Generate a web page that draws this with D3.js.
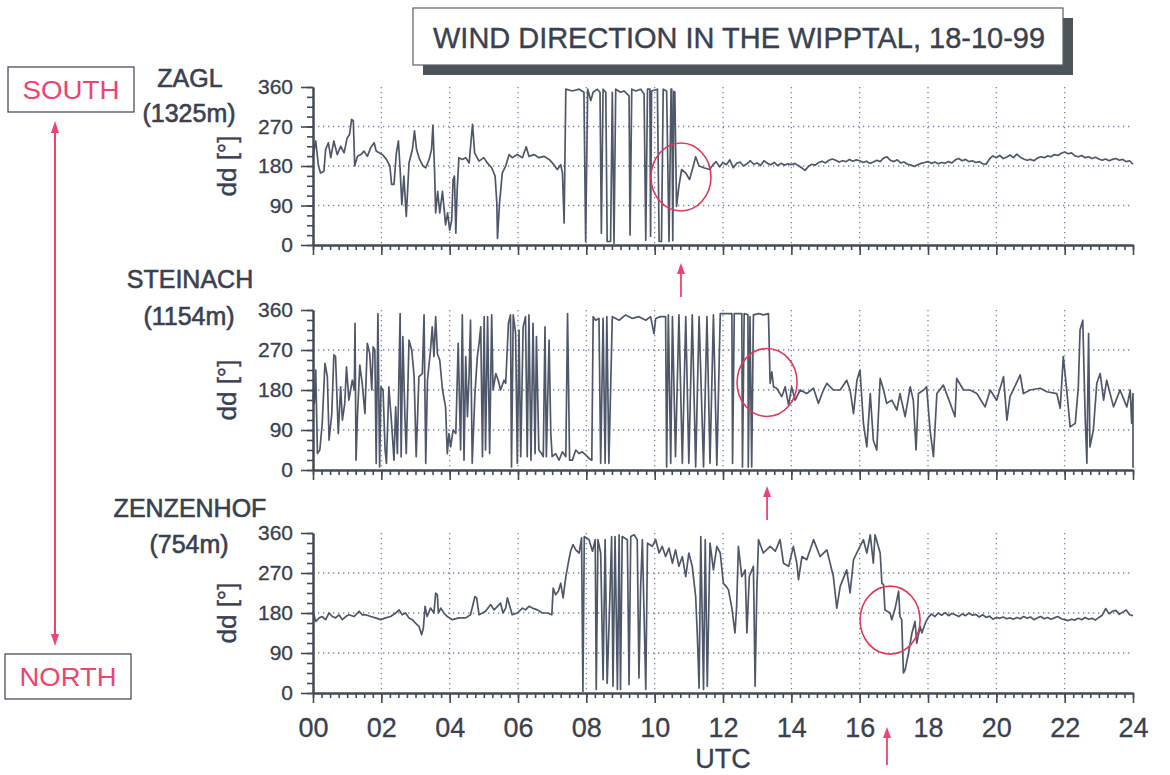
<!DOCTYPE html>
<html>
<head>
<meta charset="utf-8">
<script src="https://cdn.jsdelivr.net/npm/d3@7"></script>
<style>
  html, body { margin: 0; padding: 0; background: #ffffff; }
  svg { display: block; font-family: "Liberation Sans", Arial, sans-serif; }
</style>
</head>
<body>
<svg id="chart" width="1170" height="775"></svg>
<script>
// ---- labels ----
const titleText = "WIND DIRECTION IN THE WIPPTAL, 18-10-99";
const stationNames = ["ZAGL", "STEINACH", "ZENZENHOF"];
const stationHeights = ["(1325m)", "(1154m)", "(754m)"];
const hourTickValues = [0, 2, 4, 6, 8, 10, 12, 14, 16, 18, 20, 22, 24];
const hourTickLabels = ["00", "02", "04", "06", "08", "10", "12", "14", "16", "18", "20", "22", "24"];
const dirTickValues = [0, 90, 180, 270, 360];
const dirTickLabels = ["0", "90", "180", "270", "360"];
const gridDirs = [90, 180, 270];

// ---- wind direction series: [hour UTC, direction in degrees] ----
const zagl = [
  [0.00,202],[0.08,237],[0.16,180],[0.22,164],[0.32,168],[0.37,218],[0.45,233],[0.52,199],[0.61,237],[0.71,206],
  [0.81,225],[0.91,210],[1.00,244],[1.07,252],[1.13,286],[1.18,283],[1.22,180],[1.30,202],[1.40,206],[1.49,214],
  [1.59,202],[1.69,222],[1.79,233],[1.85,214],[1.93,210],[2.03,206],[2.15,195],[2.25,180],[2.30,138],[2.37,138],
  [2.44,210],[2.50,237],[2.55,172],[2.60,92],[2.66,157],[2.73,65],[2.81,187],[2.91,218],[2.97,260],[3.03,218],
  [3.12,195],[3.22,180],[3.30,176],[3.40,195],[3.47,218],[3.51,273],[3.56,164],[3.59,73],[3.65,122],[3.71,73],
  [3.79,122],[3.84,80],[3.88,46],[3.94,73],[4.00,34],[4.06,57],[4.10,149],[4.14,157],[4.18,27],[4.22,126],
  [4.27,199],[4.37,195],[4.47,199],[4.57,187],[4.63,241],[4.67,275],[4.73,210],[4.86,191],[5.00,199],[5.10,187],
  [5.23,176],[5.33,157],[5.38,96],[5.40,15],[5.46,96],[5.54,164],[5.64,180],[5.74,206],[5.83,199],[5.98,206],
  [6.13,199],[6.24,224],[6.32,202],[6.47,206],[6.61,199],[6.76,202],[6.91,195],[7.05,183],[7.15,172],[7.25,183],
  [7.30,164],[7.35,50],[7.40,355],[7.59,351],[7.79,355],[7.93,348],[7.98,8],[8.04,355],[8.13,329],[8.20,348],
  [8.32,355],[8.40,348],[8.44,27],[8.49,355],[8.57,348],[8.61,8],[8.71,8],[8.76,348],[8.81,4],[8.86,355],
  [9.00,348],[9.10,351],[9.25,340],[9.28,23],[9.33,355],[9.45,351],[9.59,355],[9.69,344],[9.74,11],[9.79,355],
  [9.86,355],[9.88,20],[9.91,351],[10.08,355],[10.13,8],[10.20,8],[10.25,355],[10.35,351],[10.42,8],[10.48,355],
  [10.50,355],[10.53,10],[10.56,350],[10.59,348],[10.64,88],[10.71,134],[10.79,172],[10.91,164],[11.02,149],[11.13,180],
  [11.20,201],[11.30,180],[11.44,176],[11.61,172],
  [11.7,182],[11.8,190],[11.9,178],[12.0,188],[12.1,183],[12.2,194],[12.3,176],[12.4,186],[12.5,189],[12.6,180],
  [12.7,185],[12.8,192],[12.9,184],[13.0,187],[13.1,181],[13.2,192],[13.3,186],[13.4,183],[13.5,188],[13.6,181],
  [13.7,186],[13.8,182],[13.9,185],[14.0,183],[14.1,186],[14.2,181],[14.3,176],[14.4,170],[14.5,179],[14.6,184],
  [14.7,182],[14.8,188],[14.9,191],[15.0,187],[15.1,193],[15.2,196],[15.3,193],[15.4,189],[15.5,192],[15.6,190],
  [15.7,195],[15.8,191],[15.9,194],[16.0,192],[16.1,188],[16.2,191],[16.3,186],[16.4,189],[16.5,193],[16.6,190],
  [16.7,198],[16.8,201],[16.9,193],[17.0,190],[17.1,194],[17.2,187],[17.3,189],[17.4,184],[17.5,182],[17.6,179],
  [17.7,183],[17.8,186],[17.9,188],[18.0,190],[18.1,186],[18.2,189],[18.3,185],[18.4,188],[18.5,186],[18.6,190],
  [18.7,187],[18.8,194],[18.9,197],[19.0,192],[19.1,195],[19.2,190],[19.3,192],[19.4,188],[19.5,190],[19.6,185],
  [19.7,184],[19.8,196],[19.9,203],[20.0,199],[20.1,204],[20.2,197],[20.3,200],[20.4,205],[20.5,199],[20.6,207],
  [20.7,200],[20.8,196],[20.9,193],[21.0,195],[21.1,192],[21.2,198],[21.3,201],[21.4,199],[21.5,203],[21.6,201],
  [21.7,206],[21.8,204],[21.9,209],[22.0,212],[22.1,208],[22.2,210],[22.3,203],[22.4,201],[22.5,204],[22.6,199],
  [22.7,201],[22.8,197],[22.9,200],[23.0,196],[23.1,193],[23.2,196],[23.3,192],[23.4,195],[23.5,197],[23.6,193],
  [23.7,195],[23.8,190],[23.9,192],[24.0,184]
];

const steinach = [
  [0.00,169],[0.04,150],[0.08,225],[0.13,37],[0.20,45],[0.27,105],[0.35,240],[0.42,210],[0.47,67],[0.55,127],
  [0.61,259],[0.66,255],[0.74,82],[0.81,187],[0.86,112],[0.93,150],[0.98,232],[1.05,157],[1.15,202],[1.21,180],
  [1.23,330],[1.26,22],[1.30,120],[1.37,236],[1.44,195],[1.52,127],[1.59,285],[1.66,262],[1.72,180],[1.76,277],
  [1.81,270],[1.85,15],[1.90,352],[1.95,7],[1.99,187],[2.05,180],[2.11,45],[2.15,15],[2.22,187],[2.30,105],
  [2.37,22],[2.42,142],[2.47,37],[2.55,352],[2.58,30],[2.63,300],[2.69,120],[2.73,37],[2.81,292],[2.89,270],
  [2.96,210],[3.02,30],[3.10,210],[3.20,217],[3.25,349],[3.30,15],[3.35,202],[3.44,270],[3.49,322],[3.54,255],
  [3.59,345],[3.64,262],[3.71,247],[3.79,180],[3.88,142],[3.93,37],[3.98,82],[4.03,52],[4.10,90],[4.18,82],
  [4.25,285],[4.32,45],[4.37,349],[4.42,22],[4.47,255],[4.52,120],[4.57,217],[4.61,337],[4.66,15],[4.74,172],
  [4.81,255],[4.86,285],[4.91,322],[4.96,30],[5.01,345],[5.05,45],[5.11,345],[5.17,37],[5.23,349],[5.27,180],
  [5.35,217],[5.42,202],[5.49,180],[5.59,202],[5.64,195],[5.72,330],[5.78,349],[5.81,7],[5.86,349],[5.93,307],
  [5.98,15],[6.03,315],[6.08,30],[6.15,322],[6.22,345],[6.27,30],[6.32,349],[6.38,22],[6.44,330],[6.50,37],
  [6.54,300],[6.61,45],[6.69,37],[6.74,30],[6.79,322],[6.83,30],[6.91,292],[6.96,82],[7.00,30],[7.10,37],
  [7.20,22],[7.30,41],[7.40,30],[7.45,352],[7.51,22],[7.59,22],[7.69,45],[7.79,37],[7.88,41],[7.98,34],
  [8.08,26],[8.16,22],[8.20,345],[8.27,337],[8.37,341],[8.42,15],[8.49,341],[8.55,15],[8.60,345],[8.66,15],
  [8.76,345],[8.96,337],[9.15,349],[9.35,341],[9.54,345],[9.74,337],[9.88,345],[9.98,307],[10.03,341],[10.17,345],
  [10.32,345],[10.35,7],[10.40,349],[10.47,15],[10.52,345],[10.61,30],[10.71,349],[10.81,15],[10.91,345],[11.00,15],
  [11.10,349],[11.20,7],[11.30,345],[11.43,7],[11.53,345],[11.62,15],[11.72,349],[11.82,11],[11.92,352],[12.26,352],
  [12.28,15],[12.33,352],[12.55,352],[12.57,7],[12.62,352],[12.73,349],[12.74,7],[12.79,345],[12.84,7],[12.89,349],
  [13.04,352],[13.18,349],[13.33,352],[13.38,195],[13.43,221],[13.48,187],[13.57,184],[13.72,165],[13.82,187],[13.92,146],
  [14.01,187],[14.11,157],[14.26,180],[14.45,172],[14.65,184],[14.79,150],[14.94,180],[15.04,195],[15.23,180],[15.43,180],
  [15.62,202],[15.72,180],[15.82,127],[15.92,202],[16.01,225],[16.11,105],[16.21,52],[16.31,172],[16.40,67],[16.50,45],
  [16.60,206],[16.70,180],[16.79,150],[16.94,157],[17.09,135],[17.18,172],[17.33,120],[17.48,187],[17.57,157],[17.65,45],
  [17.72,172],[17.87,180],[17.96,187],[18.06,90],[18.16,30],[18.26,172],[18.45,191],[18.65,150],[18.79,120],[18.84,206],
  [19.04,180],[19.23,180],[19.43,172],[19.67,142],[19.82,180],[20.01,157],[20.21,210],[20.31,112],[20.40,165],[20.70,214],
  [20.79,172],[20.99,180],[21.28,184],[21.48,176],[21.77,172],[21.87,139],[21.96,255],[22.06,180],[22.16,97],[22.31,105],
  [22.40,187],[22.45,315],[22.53,337],[22.60,120],[22.65,15],[22.70,307],[22.74,52],[22.84,90],[22.94,195],[23.04,217],
  [23.14,157],[23.23,202],[23.43,142],[23.62,180],[23.82,142],[23.92,180],[23.96,105],[24.00,172],[24.00,5]
];

const zenzenhof = [
  [0.00,184],[0.08,161],[0.18,169],[0.27,172],[0.37,165],[0.47,180],[0.57,172],[0.66,169],[0.76,176],[0.86,165],
  [0.96,172],[1.05,176],[1.20,172],[1.35,184],[1.44,176],[1.54,176],[1.69,172],[1.83,169],[1.98,165],[2.13,169],
  [2.27,172],[2.42,180],[2.52,187],[2.61,176],[2.71,180],[2.81,169],[2.91,165],[3.00,157],[3.10,150],[3.18,131],
  [3.23,146],[3.28,195],[3.34,172],[3.44,191],[3.54,180],[3.59,225],[3.64,221],[3.67,180],[3.74,191],[3.83,180],
  [3.93,172],[4.08,165],[4.27,169],[4.47,169],[4.61,176],[4.74,217],[4.79,214],[4.86,176],[4.96,180],[5.05,184],
  [5.20,199],[5.30,187],[5.40,195],[5.49,202],[5.56,180],[5.64,191],[5.69,214],[5.76,195],[5.83,176],[5.98,180],
  [6.13,191],[6.22,187],[6.32,195],[6.42,191],[6.57,187],[6.71,180],[6.86,180],[6.99,176],[7.03,236],[7.10,221],
  [7.18,229],[7.25,247],[7.32,214],[7.40,262],[7.49,300],[7.54,319],[7.61,334],[7.69,322],[7.79,315],[7.86,349],
  [7.90,4],[7.94,352],[8.08,345],[8.18,319],[8.26,345],[8.29,8],[8.34,345],[8.42,315],[8.49,30],[8.55,345],
  [8.61,22],[8.66,142],[8.74,352],[8.78,15],[8.84,352],[8.91,8],[8.96,356],[9.00,8],[9.05,352],[9.20,345],
  [9.25,19],[9.30,352],[9.40,356],[9.49,345],[9.54,34],[9.59,240],[9.64,345],[9.74,8],[9.79,337],[9.93,330],
  [10.03,345],[10.13,315],[10.22,330],[10.32,307],[10.42,326],[10.52,292],[10.61,322],[10.71,285],[10.81,307],[10.91,262],
  [11.00,315],[11.10,285],[11.20,217],[11.25,127],[11.30,11],[11.35,352],[11.43,8],[11.48,345],[11.54,15],[11.62,337],
  [11.72,277],[11.82,330],[11.92,315],[12.01,247],[12.09,240],[12.16,232],[12.26,191],[12.35,135],[12.40,195],[12.45,330],
  [12.55,262],[12.65,277],[12.70,135],[12.77,262],[12.89,285],[12.94,15],[12.99,232],[13.04,345],[13.18,315],[13.38,330],
  [13.53,319],[13.67,345],[13.77,292],[13.92,285],[14.06,330],[14.16,292],[14.21,255],[14.31,307],[14.45,300],[14.65,345],
  [14.84,307],[15.04,322],[15.23,262],[15.33,191],[15.43,240],[15.62,277],[15.72,225],[15.82,300],[16.01,330],[16.11,345],
  [16.21,315],[16.31,356],[16.40,292],[16.45,356],[16.60,315],[16.65,247],[16.70,244],[16.74,187],[16.89,180],[16.94,165],
  [17.04,191],[17.14,229],[17.18,172],[17.23,165],[17.28,45],[17.33,52],[17.43,90],[17.53,135],[17.62,161],[17.67,112],
  [17.77,150],[17.82,135],[17.92,157],[18.0,169],[18.1,178],[18.2,172],[18.3,180],[18.4,175],[18.5,181],[18.6,174],
  [18.7,179],[18.8,176],[18.9,172],[19.0,178],[19.1,174],[19.2,180],[19.3,175],[19.4,177],[19.5,171],[19.6,176],
  [19.7,170],[19.8,173],[19.9,166],[20.0,170],[20.1,168],[20.2,171],[20.3,167],[20.4,169],[20.5,166],[20.6,170],
  [20.7,167],[20.8,172],[20.9,168],[21.0,171],[21.1,165],[21.2,169],[21.3,172],[21.4,167],[21.5,170],[21.6,166],
  [21.7,169],[21.8,172],[21.9,167],[22.0,165],[22.1,163],[22.2,166],[22.3,164],[22.4,168],[22.5,165],[22.6,170],
  [22.7,166],[22.8,168],[22.9,164],[23.0,170],[23.1,175],[23.2,190],[23.3,178],[23.4,184],[23.5,186],[23.6,177],
  [23.7,182],[23.8,187],[23.9,176],[24.0,174]
];

// change-over marks (hour, direction) highlighted with a circle and an arrow
const markHours = [10.77, 13.29, 16.89];
const markDirs = [155, 197, 164];
const arrowHours = [10.77, 13.29, 16.80];

const seriesList = [zagl, steinach, zenzenhof];

// ---- layout ----
const svg = d3.select("#chart");
const textColor = "#3a4150";
const axisColor = "#434a58";
const lineColor = "#4f586a";
const gridColor = "#7583a8";
const red = "#e23a55";
const pink = "#ee4470";

const x = d3.scaleLinear().domain([0, 24]).range([313, 1133]);
const panels = [
  { top: 87, bottom: 245, nameY: 87, heightY: 122 },
  { top: 310, bottom: 470, nameY: 288, heightY: 325 },
  { top: 533, bottom: 693, nameY: 517, heightY: 553 }
];

// slightly heavier text, like the printed labels
function heavy(sel, w) {
  return sel.attr("stroke", sel.attr("fill")).attr("stroke-width", w).attr("paint-order", "stroke");
}

// title box with shadow
svg.append("rect").attr("x", 423).attr("y", 18).attr("width", 650).attr("height", 57).attr("fill", "#4c5457");
svg.append("rect").attr("x", 413).attr("y", 8).attr("width", 650).attr("height", 57)
  .attr("fill", "#ffffff").attr("stroke", "#5a606a").attr("stroke-width", 1.2);
heavy(svg.append("text").attr("x", 739).attr("y", 48).attr("text-anchor", "middle")
  .attr("font-size", 29).attr("fill", textColor)
  .attr("textLength", 612).attr("lengthAdjust", "spacingAndGlyphs").text(titleText), 0.4);

// SOUTH / NORTH boxes and arrow
function compassBox(label, bx, by) {
  svg.append("rect").attr("x", bx).attr("y", by).attr("width", 126).attr("height", 45)
    .attr("fill", "#ffffff").attr("stroke", "#4a505c").attr("stroke-width", 1.3);
  svg.append("text").attr("x", bx + 63).attr("y", by + 32).attr("text-anchor", "middle")
    .attr("font-size", 26).attr("fill", pink)
    .attr("textLength", 97).attr("lengthAdjust", "spacingAndGlyphs").text(label);
}
compassBox("SOUTH", 8, 67);
compassBox("NORTH", 5, 654);
svg.append("line").attr("x1", 55).attr("x2", 55).attr("y1", 130).attr("y2", 637)
  .attr("stroke", pink).attr("stroke-width", 2);
svg.append("path").attr("d", "M55,121 L51,133 L59,133 Z").attr("fill", pink);
svg.append("path").attr("d", "M55,646 L51,634 L59,634 Z").attr("fill", pink);

panels.forEach((p, i) => {
  const y = d3.scaleLinear().domain([0, 360]).range([p.bottom, p.top]);
  const g = svg.append("g");

  // dotted grid
  g.selectAll(".hgrid").data(gridDirs).join("line")
    .attr("x1", x(0)).attr("x2", x(24)).attr("y1", d => y(d)).attr("y2", d => y(d))
    .attr("stroke", gridColor).attr("stroke-width", 1.3).attr("stroke-dasharray", "1.3,3.7");
  g.selectAll(".vgrid").data(hourTickValues.filter(h => h > 0 && h < 24)).join("line")
    .attr("x1", d => x(d)).attr("x2", d => x(d)).attr("y1", y(360)).attr("y2", y(0))
    .attr("stroke", gridColor).attr("stroke-width", 1.3).attr("stroke-dasharray", "1.3,3.7");

  // data line
  const line = d3.line().x(d => x(d[0])).y(d => y(d[1]));
  g.append("path").datum(seriesList[i]).attr("d", line)
    .attr("fill", "none").attr("stroke", lineColor).attr("stroke-width", 1.7)
    .attr("stroke-linejoin", "round");

  // y axis: minor + major ticks
  const yMinor = g.append("g").attr("transform", `translate(${x(0)},0)`)
    .call(d3.axisLeft(y).tickValues(d3.range(0, 361, 22.5)).tickSize(6).tickSizeOuter(0).tickFormat(""));
  const yMajor = g.append("g").attr("transform", `translate(${x(0)},0)`)
    .call(d3.axisLeft(y).tickValues(dirTickValues).tickSize(12).tickSizeOuter(0).tickPadding(8)
      .tickFormat((d, k) => dirTickLabels[k]));
  [yMinor, yMajor].forEach(a => {
    a.select(".domain").attr("stroke", axisColor).attr("stroke-width", 2);
    a.selectAll(".tick line").attr("stroke", axisColor).attr("stroke-width", 1.6);
  });
  yMajor.selectAll(".tick text").attr("font-size", 21).attr("fill", textColor)
    .attr("font-family", "Liberation Sans, Arial, sans-serif")
    .attr("stroke", textColor).attr("stroke-width", 0.3);

  // x axis: minor + major ticks
  const xMinor = g.append("g").attr("transform", `translate(0,${p.bottom})`)
    .call(d3.axisBottom(x).tickValues(d3.range(0, 24.01, 0.25)).tickSize(5).tickSizeOuter(0).tickFormat(""));
  const xMajor = g.append("g").attr("transform", `translate(0,${p.bottom})`)
    .call(d3.axisBottom(x).tickValues(hourTickValues).tickSize(10).tickSizeOuter(0).tickPadding(15)
      .tickFormat((d, k) => i === 2 ? hourTickLabels[k] : ""));
  [xMinor, xMajor].forEach(a => {
    a.select(".domain").attr("stroke", axisColor).attr("stroke-width", 2);
    a.selectAll(".tick line").attr("stroke", axisColor).attr("stroke-width", 1.6);
  });
  xMajor.selectAll(".tick text").attr("font-size", 27).attr("fill", textColor)
    .attr("font-family", "Liberation Sans, Arial, sans-serif")
    .attr("stroke", textColor).attr("stroke-width", 0.3);

  // y axis title
  const mid = (p.top + p.bottom) / 2;
  heavy(g.append("text").attr("transform", `translate(236,${mid}) rotate(-90)`)
    .attr("text-anchor", "middle").attr("font-size", 26).attr("fill", textColor).text("dd [°]"), 0.4);

  // station name and height
  heavy(g.append("text").attr("x", 190).attr("y", p.nameY).attr("text-anchor", "middle")
    .attr("font-size", 25).attr("fill", textColor).text(stationNames[i]), 0.6);
  heavy(g.append("text").attr("x", 189).attr("y", p.heightY).attr("text-anchor", "middle")
    .attr("font-size", 25).attr("fill", textColor).text(stationHeights[i]), 0.6);

  // highlighted change-over
  g.append("ellipse").attr("cx", x(markHours[i])).attr("cy", y(markDirs[i]))
    .attr("rx", 30).attr("ry", 34).attr("fill", "none").attr("stroke", red).attr("stroke-width", 1.6);
});

// change-over arrows beneath each panel
const arrowSpans = [[263, 297], [486, 520], [727, 765]];
arrowHours.forEach((h, i) => {
  const ax = x(h);
  const [tip, end] = arrowSpans[i];
  svg.append("line").attr("x1", ax).attr("x2", ax).attr("y1", tip + 8).attr("y2", end)
    .attr("stroke", pink).attr("stroke-width", 1.8);
  svg.append("path").attr("d", `M${ax},${tip} L${ax - 4},${tip + 11} L${ax + 4},${tip + 11} Z`).attr("fill", pink);
});

// time axis title
heavy(svg.append("text").attr("x", x(12)).attr("y", 768).attr("text-anchor", "middle")
  .attr("font-size", 27).attr("fill", textColor).text("UTC"), 0.3);
</script>
</body>
</html>
